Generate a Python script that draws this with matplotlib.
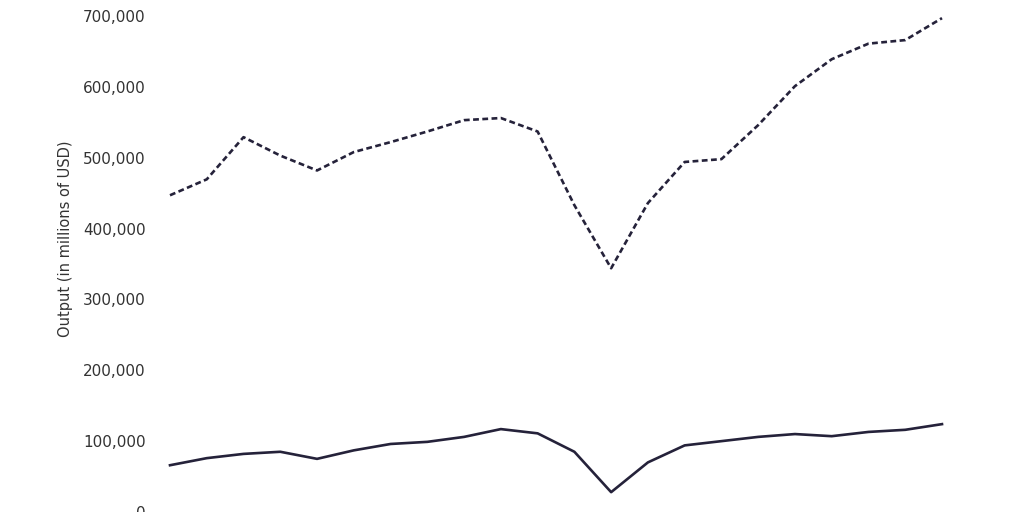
import matplotlib
matplotlib.use("Agg")
import matplotlib.pyplot as plt
from matplotlib.ticker import FuncFormatter

years = list(range(1997, 2019))
series_dashed = [447000, 469500, 529000, 503000, 482000, 508000, 522000, 537000, 553000, 556000,
                 537000, 433000, 344000, 436000, 494000, 498000, 546000, 601000, 639000, 661000,
                 666000, 697000]
series_solid = [66000, 76000, 82000, 85000, 75000, 87000, 96000, 99000, 106000, 117000,
                111000, 85000, 28000, 70000, 94000, 100000, 106000, 110000, 107000, 113000,
                116000, 124000]
y_ticks = [0, 100000, 200000, 300000, 400000, 500000, 600000, 700000]
y_label = "Output (in millions of USD)"

line_color = "#25223a"
text_color = "#333333"

plt.rcParams['font.family'] = ['DejaVu Sans']

fig = plt.figure(figsize=(10.24, 5.12), dpi=100)
ax = fig.add_axes([170/1024, 0.0, (942-170)/1024, 496/512])

ax.plot(years, series_dashed, color=line_color, lw=1.9, linestyle=(0, (2.2, 1.3)), clip_on=False)
ax.plot(years, series_solid, color=line_color, lw=1.9, clip_on=False)

ax.set_xlim(years[0], years[-1])
ax.set_ylim(0, 700000)
ax.set_yticks(y_ticks)
ax.yaxis.set_major_formatter(FuncFormatter(lambda v, p: f"{int(v):,}"))
ax.tick_params(axis='y', length=0, pad=17.5, labelsize=11, labelcolor=text_color)
ax.set_xticks([])
for s in ax.spines.values():
    s.set_visible(False)
ax.set_ylabel(y_label, fontsize=10.5, color=text_color)
ax.yaxis.set_label_coords(-(170-73)/772, (512-239)/496)

fig.savefig("out.png", dpi=100)
